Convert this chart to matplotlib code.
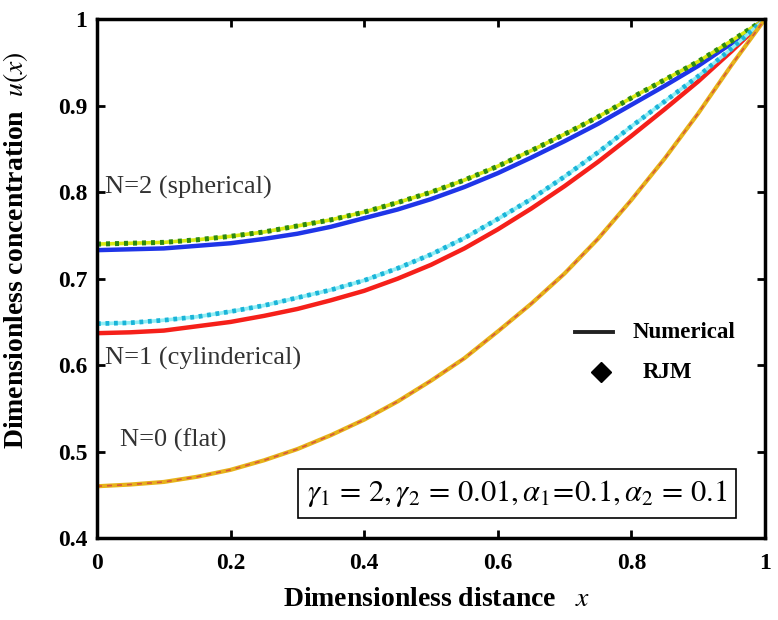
import matplotlib
matplotlib.use("Agg")
import matplotlib.pyplot as plt

plt.rcParams['font.family'] = ['Liberation Serif', 'DejaVu Serif']
plt.rcParams['mathtext.fontset'] = 'stix'

# dimensionless distance
x = [0.00, 0.05, 0.10, 0.15, 0.20, 0.25, 0.30, 0.35, 0.40, 0.45, 0.50,
     0.55, 0.60, 0.65, 0.70, 0.75, 0.80, 0.85, 0.90, 0.95, 1.00]

# N=2 spherical
sph_num = [0.733, 0.734, 0.735, 0.738, 0.741, 0.746, 0.752, 0.760, 0.770, 0.780, 0.792,
           0.806, 0.822, 0.840, 0.859, 0.879, 0.901, 0.923, 0.946, 0.972, 1.000]
sph_rjm = [0.740, 0.741, 0.742, 0.745, 0.749, 0.754, 0.761, 0.768, 0.777, 0.788, 0.800,
           0.814, 0.830, 0.848, 0.867, 0.887, 0.909, 0.930, 0.951, 0.975, 1.000]
# N=1 cylindrical
cyl_num = [0.637, 0.638, 0.640, 0.645, 0.650, 0.657, 0.665, 0.675, 0.686, 0.700, 0.716,
           0.735, 0.757, 0.781, 0.807, 0.835, 0.865, 0.896, 0.928, 0.963, 1.000]
cyl_rjm = [0.648, 0.649, 0.652, 0.656, 0.662, 0.669, 0.678, 0.687, 0.698, 0.712, 0.728,
           0.747, 0.769, 0.792, 0.818, 0.846, 0.876, 0.905, 0.934, 0.966, 1.000]
# N=0 flat
flat = [0.460, 0.462, 0.465, 0.471, 0.479, 0.490, 0.503, 0.519, 0.537, 0.558, 0.582,
        0.608, 0.639, 0.671, 0.706, 0.746, 0.791, 0.839, 0.891, 0.947, 1.000]

xticks = [0, 0.2, 0.4, 0.6, 0.8, 1]
xlabels = ['0', '0.2', '0.4', '0.6', '0.8', '1']
yticks = [0.4, 0.5, 0.6, 0.7, 0.8, 0.9, 1.0]
ylabels = ['0.4', '0.5', '0.6', '0.7', '0.8', '0.9', '1']

fig = plt.figure(figsize=(7.78, 6.2), dpi=100)
ax = fig.add_axes([0.1247, 0.132, 0.8585, 0.837])

# spherical
ax.plot(x, sph_num, color='#1f35e8', lw=3.2, solid_capstyle='round')
ax.plot(x, sph_rjm, color='#d8ea10', lw=2.6)
ax.plot(x, sph_rjm, color='#2d8a10', lw=3.6, ls=(0, (0.8, 1.0)))
# cylindrical
ax.plot(x, cyl_num, color='#f5201a', lw=3.2, solid_capstyle='round')
ax.plot(x, cyl_rjm, color='#90eef5', lw=2.6)
ax.plot(x, cyl_rjm, color='#1ab4d8', lw=3.4, ls=(0, (0.8, 1.0)))
# flat
ax.plot(x, flat, color='#e6b21a', lw=3.0)
ax.plot(x, flat, color='#d8583a', lw=1.2, ls=(0, (3, 3)))

ax.set_xlim(0, 1)
ax.set_ylim(0.4, 1.0)
ax.set_xticks(xticks)
ax.set_xticklabels(xlabels)
ax.set_yticks(yticks)
ax.set_yticklabels(ylabels)
ax.tick_params(direction='in', length=6, width=2, labelsize=17,
               top=True, right=True, pad=7)
ax.tick_params(axis='x', pad=11)
for lab in ax.get_xticklabels() + ax.get_yticklabels():
    lab.set_fontweight('bold')
for sp in ax.spines.values():
    sp.set_linewidth(2.5)

fig.text(437 / 778, 1 - 600 / 620, r'Dimensionless distance   $\mathit{x}$',
         fontsize=20, fontweight='bold', ha='center', va='center')
fig.text(16 / 778, 1 - 250 / 620, r'Dimensionless concentration  $\mathit{u(x)}$',
         fontsize=20, fontweight='bold', ha='center', va='center', rotation=90)

ax.text(0.012, 0.805, 'N=2 (spherical)', fontsize=19, va='center', color='#333333')
ax.text(0.012, 0.608, 'N=1 (cylinderical)', fontsize=19, va='center', color='#333333')
ax.text(0.034, 0.513, 'N=0 (flat)', fontsize=19, va='center', color='#333333')

# legend drawn by hand
ax.plot([0.716, 0.773], [0.638, 0.638], color='#222222', lw=2.8)
ax.text(0.802, 0.638, 'Numerical', fontsize=16.5, fontweight='bold', va='center')
ax.plot([0.754], [0.592], marker='D', color='black', ms=10)
ax.text(0.817, 0.592, 'RJM', fontsize=16.5, fontweight='bold', va='center')

ax.text(0.629, 0.452,
        r'$\gamma_1\,=\,2, \gamma_2\,=\,0.01, \alpha_1\!=\!0.1, \alpha_2\,=\,0.1$',
        fontsize=22, ha='center', va='center',
        bbox=dict(boxstyle='square,pad=0.3', fc='white', ec='black', lw=1.2))

plt.savefig('out.png', dpi=100)
